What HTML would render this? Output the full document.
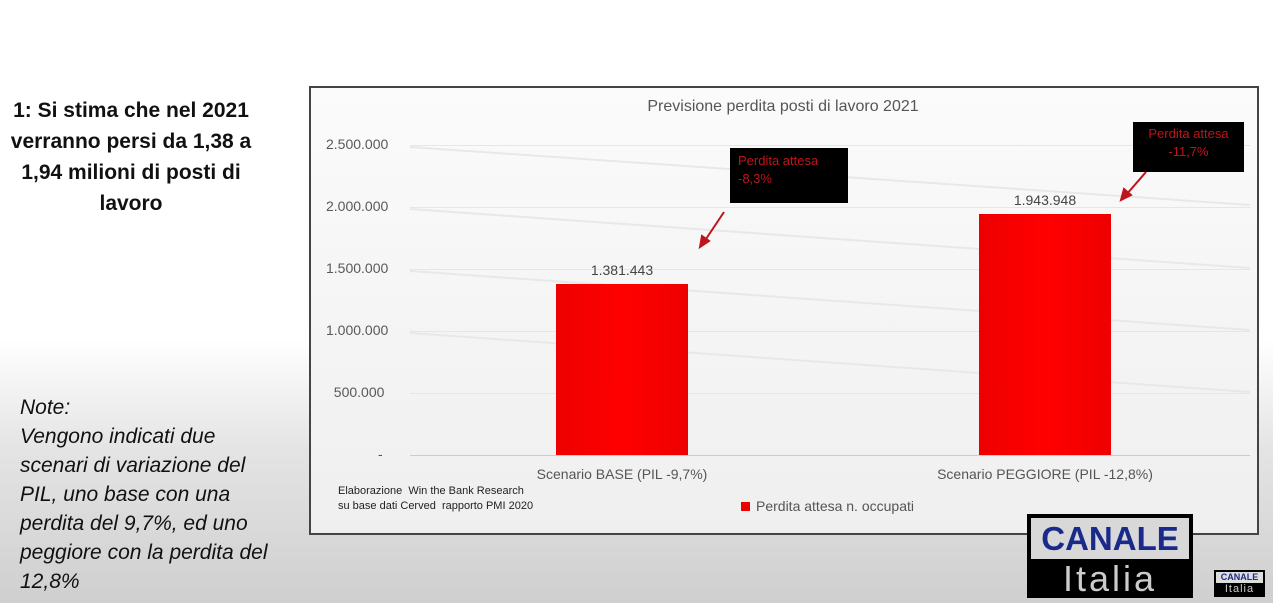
<!DOCTYPE html>
<html><head><meta charset="utf-8"><style>
body{margin:0;width:1273px;height:603px;overflow:hidden;position:relative;font-family:"Liberation Sans",sans-serif;
background:linear-gradient(180deg,#fff 0,#fff 340px,#e4e4e4 450px,#cfcfcf 603px);}
.a{position:absolute}
.yl{position:absolute;left:326px;font-size:14px;color:#595959;width:94px}
.g{position:absolute;left:410px;width:840px;height:1px;background:#e6e6e6}
</style></head><body>
<div class="a" style="left:0;top:95px;width:262px;text-align:center;font-weight:bold;font-size:21px;line-height:31px;color:#111">1: Si stima che nel 2021 verranno persi da 1,38 a 1,94 milioni di posti di lavoro</div>
<div class="a" style="left:20px;top:393px;width:300px;font-style:italic;font-size:21px;line-height:29px;color:#111;white-space:nowrap">Note:<br>Vengono indicati due<br>scenari di variazione del<br>PIL, uno base con una<br>perdita del 9,7%, ed uno<br>peggiore con la perdita del<br>12,8%</div>
<div class="a" style="left:309px;top:86px;width:946px;height:445px;border:2px solid #444;background:linear-gradient(180deg,#fbfbfb,#efefef)"></div>
<div class="a" style="left:310px;top:98px;width:946px;text-align:center;font-size:16px;color:#555">Previsione perdita posti di lavoro 2021</div>
<div class="yl" style="top:136px">2.500.000</div>
<div class="yl" style="top:198px">2.000.000</div>
<div class="yl" style="top:260px">1.500.000</div>
<div class="yl" style="top:322px">1.000.000</div>
<div class="yl" style="top:384px">&nbsp;&nbsp;500.000</div>
<div class="yl" style="top:446px;left:378px">-</div>
<div class="g" style="top:145px"></div><div class="g" style="top:207px"></div><div class="g" style="top:269px"></div><div class="g" style="top:331px"></div><div class="g" style="top:393px"></div>
<div class="a" style="left:410px;top:455px;width:840px;height:1px;background:#ccc"></div>
<svg class="a" style="left:0;top:0" width="1273" height="603"><g stroke="#e8e8e8" stroke-width="2"><line x1="410" y1="147" x2="1250" y2="205"/><line x1="410" y1="209" x2="1250" y2="268"/><line x1="410" y1="271" x2="1250" y2="330"/><line x1="410" y1="333" x2="1250" y2="392"/></g>
<g stroke="#c0141c" stroke-width="2" fill="#c0141c"><line x1="724" y1="212" x2="704" y2="242"/><polygon points="700,247 702,236 709,241"/><line x1="1146" y1="172" x2="1126" y2="195"/><polygon points="1121,200 1124,189 1131,195"/></g></svg>
<div class="a" style="left:556px;top:284px;width:132px;height:171px;background:linear-gradient(90deg,#e00,#f00 50%,#e00)"></div>
<div class="a" style="left:979px;top:214px;width:132px;height:241px;background:linear-gradient(90deg,#e00,#f00 50%,#e00)"></div>
<div class="a" style="left:556px;top:262px;width:132px;text-align:center;font-size:14px;color:#444">1.381.443</div>
<div class="a" style="left:979px;top:192px;width:132px;text-align:center;font-size:14px;color:#444">1.943.948</div>
<div class="a" style="left:730px;top:148px;width:118px;height:55px;background:#000;color:#c0141c;font-size:13px;padding:4px 0 0 8px;box-sizing:border-box;line-height:18px">Perdita attesa<br>-8,3%</div>
<div class="a" style="left:1133px;top:122px;width:111px;height:50px;background:#000;color:#c0141c;font-size:13px;text-align:center;padding-top:3px;box-sizing:border-box;line-height:18px">Perdita attesa<br>-11,7%</div>
<div class="a" style="left:500px;top:466px;width:244px;text-align:center;font-size:14px;color:#555">Scenario BASE (PIL -9,7%)</div>
<div class="a" style="left:920px;top:466px;width:250px;text-align:center;font-size:14px;color:#555">Scenario PEGGIORE (PIL -12,8%)</div>
<div class="a" style="left:338px;top:484px;font-size:11px;line-height:15px;color:#222">Elaborazione&nbsp; Win the Bank Research<br>su base dati Cerved&nbsp; rapporto PMI 2020</div>
<div class="a" style="left:741px;top:502px;width:9px;height:9px;background:#e00"></div>
<div class="a" style="left:756px;top:498px;font-size:14px;color:#555">Perdita attesa n. occupati</div>
<div class="a" style="left:1027px;top:514px;width:166px;height:84px;background:#000"></div>
<div class="a" style="left:1031px;top:518px;width:158px;height:41px;background:#d8d8d8;color:#1a2a8a;font-weight:bold;font-size:33px;text-align:center;line-height:41px;letter-spacing:0px">CANALE</div>
<div class="a" style="left:1031px;top:559px;width:158px;height:38px;color:#ccc;font-size:36px;text-align:center;line-height:40px;letter-spacing:3px">Italia</div>
<div class="a" style="left:1214px;top:570px;width:51px;height:27px;background:#000"></div>
<div class="a" style="left:1216px;top:572px;width:47px;height:11px;background:#ddd;color:#1a2a8a;font-weight:bold;font-size:9px;text-align:center;line-height:11px">CANALE</div>
<div class="a" style="left:1216px;top:583px;width:47px;color:#ccc;font-size:11px;text-align:center;line-height:13px;letter-spacing:1px">Italia</div>
</body></html>
